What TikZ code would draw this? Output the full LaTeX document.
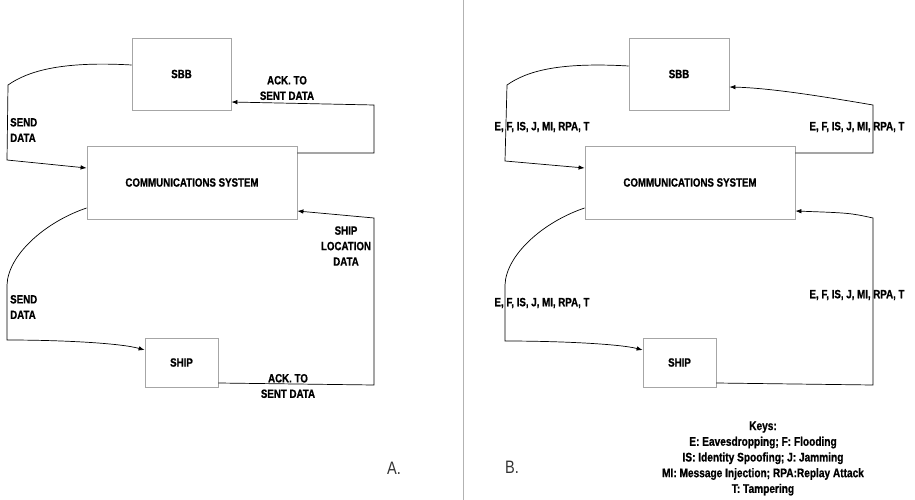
\documentclass[tikz,border=0pt]{standalone}
\usepackage{fontspec}
\setmainfont{Liberation Sans}[FakeStretch=0.81, BoldFont={Liberation Sans Bold}, BoldFeatures={FakeStretch=0.81, FakeBold=0.8}]
\usetikzlibrary{arrows.meta, calc}

\begin{document}
\begin{tikzpicture}[x=1pt, y=-1pt, font=\fontsize{12}{15.5}\selectfont\bfseries,
  box/.style={draw=black!35, line width=0.8pt, inner sep=0pt},
  flow/.style={draw, line width=0.7pt, -{Latex[length=6pt,width=4.5pt]}},
  lbl/.style={align=center, inner sep=0pt},
  tag/.style={font=\fontsize{18}{18}\selectfont\mdseries, text=black!80, inner sep=0pt}]
  \useasboundingbox (0,0) rectangle (915,500);

  % panel A
  \node[box, minimum width=99pt, minimum height=72pt] (sbbA) at (181.5,74) {SBB};
  \node[box, minimum width=210pt, minimum height=73pt] (commA) at (192,182.5) {COMMUNICATIONS SYSTEM};
  \node[box, minimum width=73pt, minimum height=49pt] (shipA) at (181.5,362.5) {SHIP};

  \draw[flow] ($(sbbA.west)+(0,-9)$) .. controls +(-70,-4) and +(20,-14) .. (8,85) -- (7,160) -- ($(commA.west)+(0,-14.5)$);
  \draw[flow] ($(commA.east)+(0,-29.5)$) -- (374,153) -- (374,105) -- ($(sbbA.east)+(0,28)$);
  \draw[flow] ($(commA.west)+(0,25.5)$) .. controls (45,222) and (8,255) .. (7,285) -- (7,340) .. controls (60,340) and (120,343) .. ($(shipA.west)+(0,-12.5)$);
  \draw[flow] ($(shipA.east)+(0,20.5)$) -- (374,385) -- (374,218) -- ($(commA.east)+(0,28.5)$);

  \node[lbl, align=left, anchor=west] (sendA1) at (10,130) {SEND\\DATA};
  \node[lbl] (ackA1) at (287,88) {ACK. TO\\SENT DATA};
  \node[lbl] (locA) at (346,246) {SHIP\\LOCATION\\DATA};
  \node[lbl, align=left, anchor=west] (sendA2) at (10,307) {SEND\\DATA};
  \node[lbl] (ackA2) at (288,386) {ACK. TO\\SENT DATA};
  \node[tag] (tagA) at (394,468) {A.};

  \draw[black!30, line width=1pt] (463,0) -- (463,500);

  % panel B
  \node[box, minimum width=100pt, minimum height=72pt] (sbbB) at (679,74) {SBB};
  \node[box, minimum width=210pt, minimum height=73pt] (commB) at (690,182.5) {COMMUNICATIONS SYSTEM};
  \node[box, minimum width=73pt, minimum height=49pt] (shipB) at (679.5,362.5) {SHIP};

  \draw[flow] ($(sbbB.west)+(0,-8)$) .. controls +(-70,-4) and +(20,-14) .. (507,85) -- (505,161) -- ($(commB.west)+(0,-14.5)$);
  \draw[flow] ($(commB.east)+(0,-29.5)$) -- (873,153) -- (873,105) .. controls (820,96) and (770,88) .. ($(sbbB.east)+(0,13)$);
  \draw[flow] ($(commB.west)+(0,25.5)$) .. controls (543,222) and (506,255) .. (505,285) -- (505,341) .. controls (560,341) and (620,344) .. ($(shipB.west)+(0,-12.5)$);
  \draw[flow] ($(shipB.east)+(0,20.5)$) -- (873,385) -- (873,218) .. controls (850,213) .. ($(commB.east)+(0,28.5)$);

  \node[lbl] (atkB1) at (542,127) {E, F, IS, J, MI, RPA, T};
  \node[lbl] (atkB2) at (857,127) {E, F, IS, J, MI, RPA, T};
  \node[lbl] (atkB3) at (542,303) {E, F, IS, J, MI, RPA, T};
  \node[lbl] (atkB4) at (857,295) {E, F, IS, J, MI, RPA, T};
  \node[tag] (tagB) at (512,467) {B.};

  \node[lbl, font=\fontsize{12.5}{15.7}\selectfont\bfseries] (keys) at (763,458.5)
    {Keys:\\E: Eavesdropping; F: Flooding\\IS: Identity Spoofing; J: Jamming\\MI: Message Injection; RPA:Replay Attack\\T: Tampering};
\end{tikzpicture}
\end{document}
